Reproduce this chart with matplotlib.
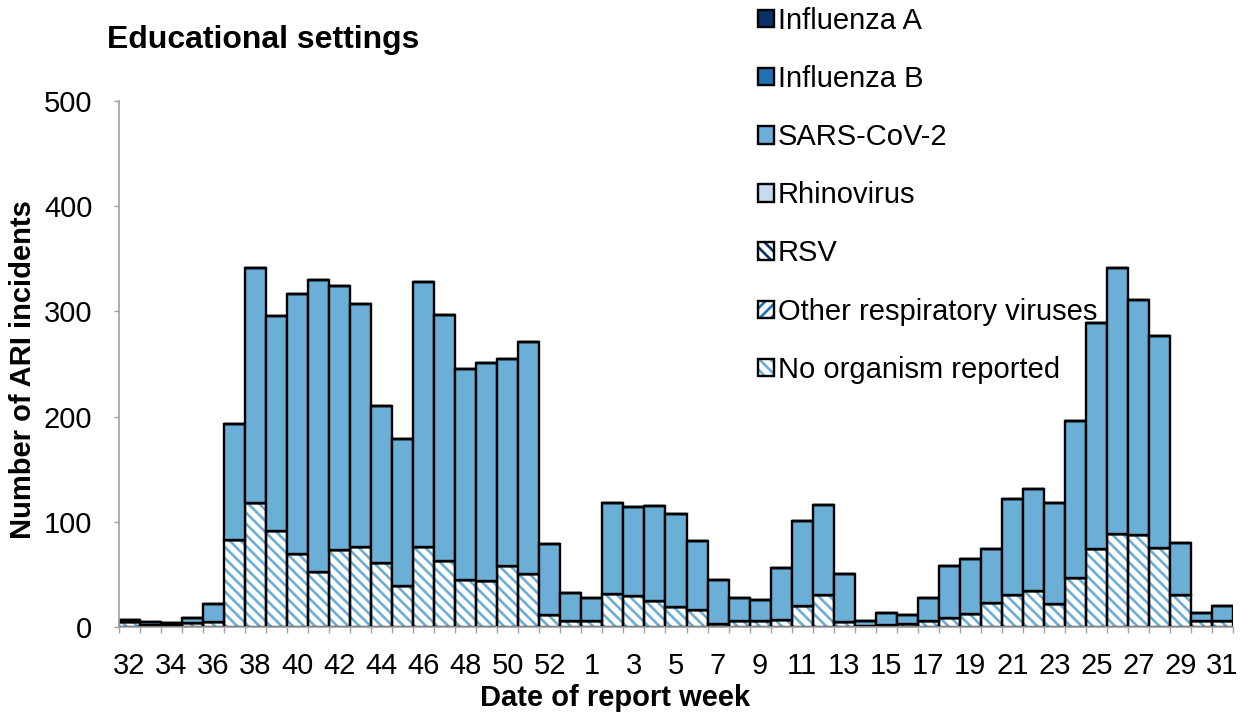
import matplotlib
matplotlib.use("Agg")
import matplotlib.pyplot as plt
import numpy as np

plt.rcParams["font.family"] = ["Liberation Sans", "DejaVu Sans"]
plt.rcParams["hatch.linewidth"] = 1.9

# Report weeks (week 32 of one year to week 31 of the next, incl. week 53)
weeks = list(range(32, 54)) + list(range(1, 32))

no_organism = [5, 2, 2, 4, 5, 83, 118, 91, 69, 52, 73, 76, 61, 39, 76, 63, 45, 44, 58, 50,
               11, 6, 6, 31, 29, 25, 19, 16, 3, 6, 6, 7, 20, 30, 5, 1, 2, 3, 6, 9,
               12, 23, 30, 34, 22, 47, 74, 88, 87, 75, 30, 6, 6]
sars_cov2 = [2, 3, 2, 5, 17, 110, 223, 205, 248, 278, 251, 231, 149, 140, 252, 234, 200, 207, 197, 221,
             68, 26, 22, 87, 85, 90, 88, 66, 42, 22, 20, 49, 81, 86, 45, 5, 11, 8, 22, 49,
             53, 51, 92, 97, 96, 149, 215, 253, 224, 202, 50, 7, 14]
other_resp = [0] * len(weeks)
rsv = [0] * len(weeks)
rhinovirus = [0] * len(weeks)
influenza_b = [0] * len(weeks)
influenza_a = [0] * len(weeks)

# (label, values, face colour, hatch colour, hatch) from bottom of stack to top
series = [
    ("No organism reported", no_organism, "white", "#6BAED6", "\\\\\\"),
    ("Other respiratory viruses", other_resp, "white", "#2171B5", "///"),
    ("RSV", rsv, "white", "#08306B", "\\\\\\"),
    ("Rhinovirus", rhinovirus, "#C6DBEF", None, None),
    ("SARS-CoV-2", sars_cov2, "#6BAED6", None, None),
    ("Influenza B", influenza_b, "#2171B5", None, None),
    ("Influenza A", influenza_a, "#08306B", None, None),
]

fig = plt.figure(figsize=(12.44, 7.2), dpi=100)
ax = fig.add_axes([119 / 1244, 1 - 627 / 720, 1114 / 1244, 526 / 720])

x = np.arange(len(weeks))
bottom = np.zeros(len(weeks))
handles = {}
for label, vals, face, hcol, hatch in series:
    vals = np.array(vals, dtype=float)
    if hatch:
        # hatch drawn in its own colour, black outline on top
        b1 = ax.bar(x, vals, bottom=bottom, width=1.0, color=face, edgecolor=hcol,
                    hatch=hatch, linewidth=0)
        b2 = ax.bar(x, vals, bottom=bottom, width=1.0, fill=False, edgecolor="black",
                    linewidth=1.7)
        handles[label] = (b1[0], b2[0])
    else:
        b = ax.bar(x, vals, bottom=bottom, width=1.0, color=face, edgecolor="black",
                   linewidth=1.7)
        handles[label] = b[0]
    bottom += vals

ax.set_xlim(-0.5, len(weeks) - 0.5)
ax.set_ylim(0, 500)
ax.set_yticks(range(0, 501, 100))
ax.tick_params(axis="y", labelsize=21, color="#A0A0A0", length=3.6, width=1, pad=15.5)

# labels every other week, tick marks on bar boundaries
ax.set_xticks(x[::2])
ax.set_xticklabels([str(w) for w in weeks[::2]], fontsize=21)
ax.tick_params(axis="x", which="major", length=0, pad=18)
ax.set_xticks(np.arange(-0.5, len(weeks) + 0.5, 1), minor=True)
ax.tick_params(axis="x", which="minor", length=4.3, color="#A0A0A0", width=1)

for side in ["top", "right"]:
    ax.spines[side].set_visible(False)
for side in ["left", "bottom"]:
    ax.spines[side].set_color("#A0A0A0")
    ax.spines[side].set_linewidth(1.2)

ax.set_ylabel("Number of ARI incidents", fontsize=21, fontweight="bold", va="center")
ax.yaxis.set_label_coords(-0.0862, 0.49)
ax.set_xlabel("Date of report week", fontsize=21, fontweight="bold", va="center")
ax.xaxis.set_label_coords(0.445, -0.135)

fig.text(107 / 1244, 1 - 40 / 720, "Educational settings", fontsize=23,
         fontweight="bold", va="center", ha="left")

order = ["Influenza A", "Influenza B", "SARS-CoV-2", "Rhinovirus", "RSV",
         "Other respiratory viruses", "No organism reported"]
fig.legend([handles[k] for k in order], order, loc="upper left",
           bbox_to_anchor=(740 / 1244, 1.015), frameon=False, fontsize=21,
           handlelength=0.55, handleheight=0.55, handletextpad=0.15,
           labelspacing=1.035, borderaxespad=0.2)

fig.savefig("out.png", dpi=100)
